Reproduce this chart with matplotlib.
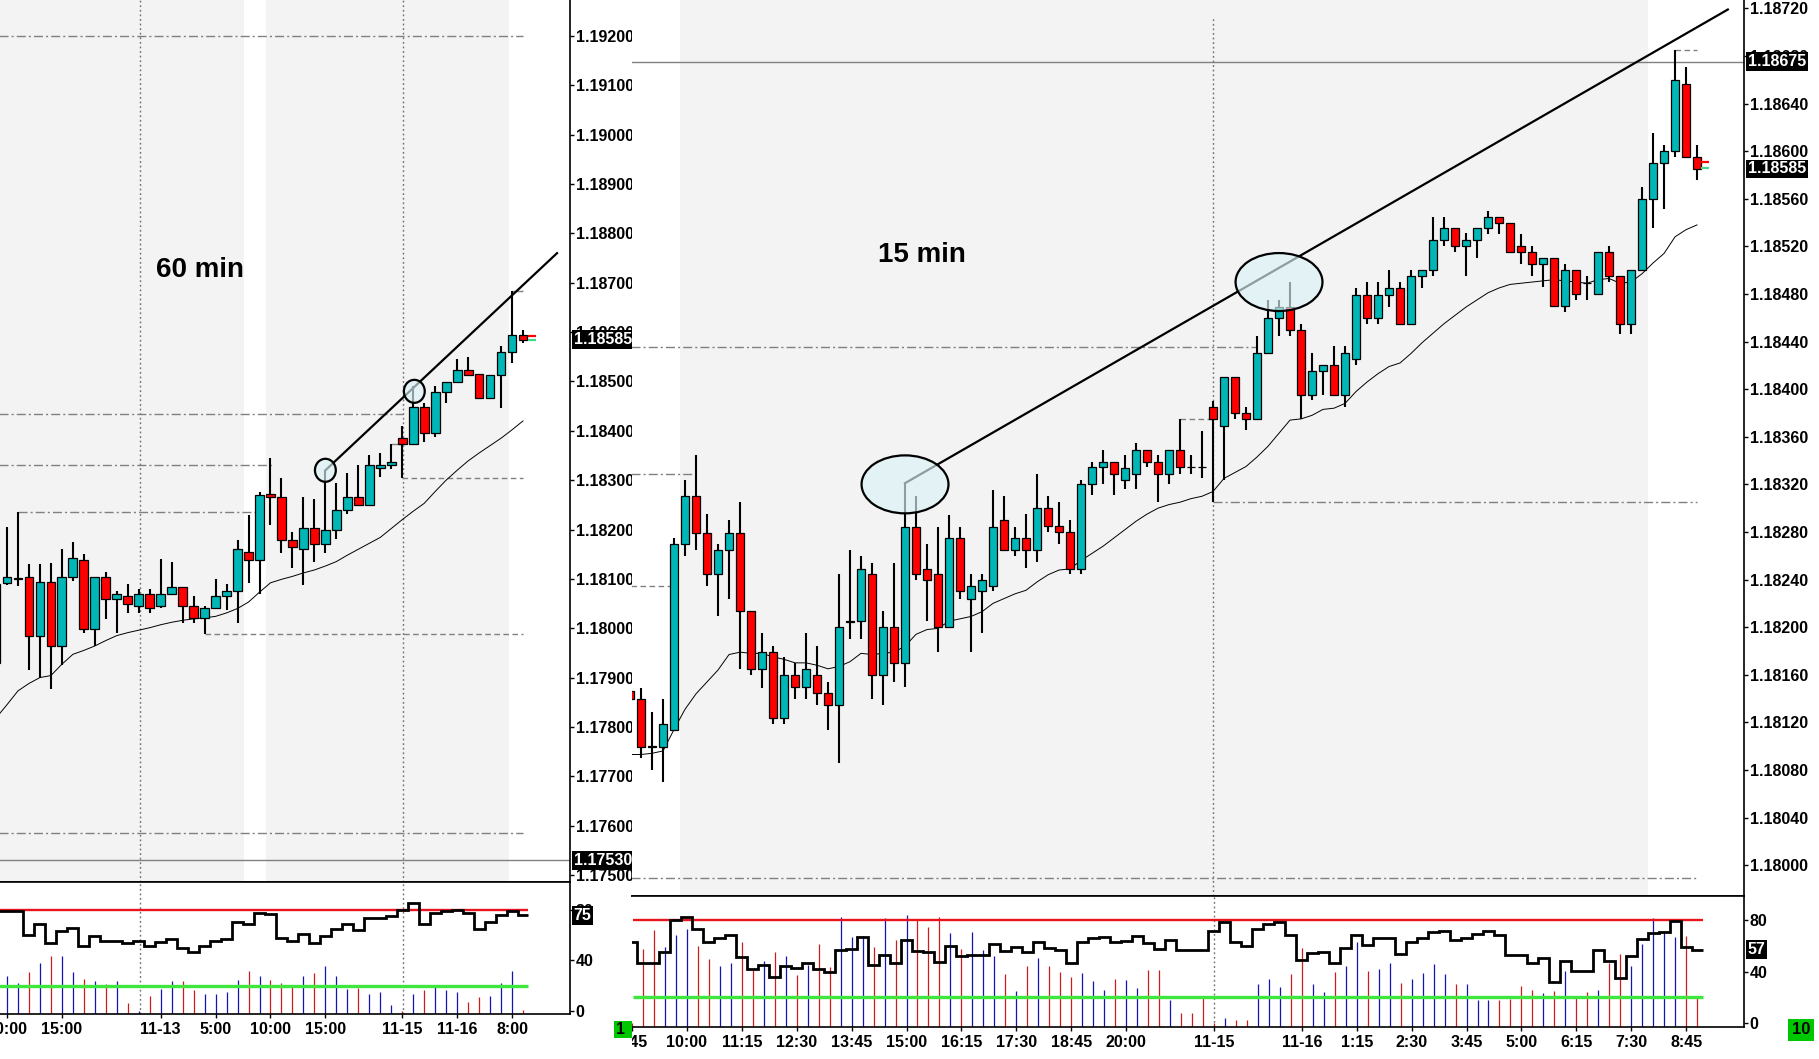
import numpy as np
import matplotlib
matplotlib.use("Agg")
import matplotlib.pyplot as plt
import matplotlib.transforms as mtransforms
from matplotlib.patches import Ellipse, Rectangle

plt.rcParams['font.family'] = ['Liberation Sans', 'DejaVu Sans']
plt.rcParams['lines.scale_dashes'] = False

# ---------------- 60 min chart data ----------------
left_open = [1.17930, 1.18092, 1.18099, 1.18104, 1.17985, 1.18094, 1.17964, 1.18104, 1.18139, 1.17998,
             1.18104, 1.18059, 1.18065, 1.18045, 1.18069, 1.18045, 1.18070, 1.18084, 1.18045, 1.18020,
             1.18040, 1.18065, 1.18075, 1.18155, 1.18139, 1.18272, 1.18265, 1.18178, 1.18160, 1.18204,
             1.18171, 1.18198, 1.18239, 1.18265, 1.18249, 1.18324, 1.18331, 1.18385, 1.18374, 1.18449,
             1.18395, 1.18479, 1.18499, 1.18523, 1.18516, 1.18466, 1.18513, 1.18560, 1.18594]
left_high = [1.18096, 1.18206, 1.18235, 1.18130, 1.18130, 1.18133, 1.18160, 1.18175, 1.18151, 1.18104,
             1.18113, 1.18075, 1.18090, 1.18080, 1.18080, 1.18141, 1.18134, 1.18084, 1.18066, 1.18045,
             1.18100, 1.18090, 1.18178, 1.18229, 1.18275, 1.18345, 1.18304, 1.18194, 1.18265, 1.18261,
             1.18320, 1.18294, 1.18314, 1.18330, 1.18351, 1.18355, 1.18373, 1.18410, 1.18491, 1.18456,
             1.18490, 1.18499, 1.18545, 1.18550, 1.18516, 1.18513, 1.18571, 1.18683, 1.18604]
left_low = [1.17892, 1.18088, 1.18085, 1.17916, 1.17900, 1.17876, 1.17925, 1.18096, 1.17990, 1.17963,
            1.18018, 1.17990, 1.18030, 1.18030, 1.18031, 1.18041, 1.18069, 1.18010, 1.18011, 1.17989,
            1.18040, 1.18037, 1.18010, 1.18092, 1.18069, 1.18210, 1.18153, 1.18121, 1.18087, 1.18135,
            1.18153, 1.18181, 1.18231, 1.18249, 1.18249, 1.18306, 1.18323, 1.18304, 1.18374, 1.18377,
            1.18387, 1.18457, 1.18496, 1.18511, 1.18466, 1.18464, 1.18447, 1.18537, 1.18577]
left_close = [1.18090, 1.18104, 1.18101, 1.17985, 1.18094, 1.17964, 1.18104, 1.18143, 1.17998, 1.18104,
              1.18059, 1.18069, 1.18049, 1.18070, 1.18040, 1.18070, 1.18084, 1.18045, 1.18020, 1.18040,
              1.18065, 1.18075, 1.18160, 1.18139, 1.18269, 1.18265, 1.18178, 1.18165, 1.18204, 1.18171,
              1.18198, 1.18239, 1.18265, 1.18249, 1.18330, 1.18331, 1.18336, 1.18374, 1.18449, 1.18395,
              1.18479, 1.18499, 1.18523, 1.18513, 1.18466, 1.18513, 1.18560, 1.18594, 1.18585]
left_ma = [1.17818, 1.17845, 1.17873, 1.17888, 1.17900, 1.17904, 1.17927, 1.17947, 1.17955, 1.17964,
           1.17975, 1.17985, 1.17991, 1.17996, 1.18001, 1.18007, 1.18012, 1.18016, 1.18019, 1.18021,
           1.18024, 1.18031, 1.18040, 1.18053, 1.18073, 1.18092, 1.18099, 1.18105, 1.18112, 1.18118,
           1.18126, 1.18135, 1.18148, 1.18160, 1.18172, 1.18184, 1.18202, 1.18220, 1.18237, 1.18253,
           1.18277, 1.18300, 1.18320, 1.18339, 1.18355, 1.18370, 1.18385, 1.18402, 1.18420]
left_osc = [78.7, 78.7, 78.7, 60.0, 68.5, 53.5, 63.0, 65.5, 51.0, 59.0,
            55.0, 55.0, 53.5, 55.5, 51.0, 54.7, 57.0, 50.0, 46.5, 51.0,
            55.0, 56.5, 70.0, 68.5, 77.5, 76.5, 58.0, 55.0, 61.0, 54.0,
            59.5, 64.5, 68.5, 63.7, 73.5, 73.5, 75.0, 79.6, 85.0, 69.0,
            77.5, 78.7, 80.0, 77.5, 64.5, 70.0, 75.7, 78.7, 75.7]
left_vol = [0, 27.6, 22.5, 31.0, 38.0, 43.5, 43.5, 31.0, 25.5, 24.0,
            21.6, 24.0, 6.6, 0, 12.0, 17.4, 24.0, 24.0, 16.5, 13.5,
            14.0, 15.0, 25.0, 32.0, 28.0, 25.0, 22.0, 20.0, 28.0, 30.0,
            36.0, 28.0, 17.4, 18.6, 14.0, 15.6, 5.4, 0, 14.0, 16.5,
            21.0, 16.5, 15.6, 7.5, 11.0, 12.0, 22.5, 32.0, 1.5]
left_yticks = [1.17500, 1.17600, 1.17700, 1.17800, 1.17900, 1.18000, 1.18100, 1.18200, 1.18300,
               1.18400, 1.18500, 1.18600, 1.18700, 1.18800, 1.18900, 1.19000, 1.19100, 1.19200]
left_xtick_pos = [1, 6, 15, 20, 25, 30, 37, 42, 47]
left_xtick_lab = ["10:00", "15:00", "11-13", "5:00", "10:00", "15:00", "11-15", "11-16", "8:00"]
left_trend = ([30, 51.1], [1.18320, 1.18760])
left_circles = [(30.0, 1.18320), (38.1, 1.18480)]

# ---------------- 15 min chart data ----------------
right_open = [1.18146, 1.18140, 1.18100, 1.18099, 1.18114, 1.18270, 1.18310, 1.18279, 1.18245, 1.18265,
              1.18279, 1.18214, 1.18165, 1.18179, 1.18124, 1.18160, 1.18150, 1.18160, 1.18145, 1.18135,
              1.18204, 1.18205, 1.18245, 1.18160, 1.18200, 1.18170, 1.18284, 1.18249, 1.18245, 1.18200,
              1.18275, 1.18224, 1.18230, 1.18235, 1.18290, 1.18265, 1.18275, 1.18265, 1.18300, 1.18285,
              1.18280, 1.18249, 1.18320, 1.18335, 1.18339, 1.18324, 1.18329, 1.18349, 1.18339, 1.18329,
              1.18349, 1.18335, 1.18335, 1.18385, 1.18369, 1.18410, 1.18380, 1.18375, 1.18430, 1.18460,
              1.18469, 1.18450, 1.18395, 1.18415, 1.18420, 1.18395, 1.18425, 1.18479, 1.18460, 1.18479,
              1.18485, 1.18455, 1.18495, 1.18500, 1.18525, 1.18535, 1.18520, 1.18525, 1.18535, 1.18545,
              1.18540, 1.18520, 1.18515, 1.18505, 1.18510, 1.18470, 1.18500, 1.18489, 1.18480, 1.18515,
              1.18495, 1.18455, 1.18500, 1.18560, 1.18590, 1.18600, 1.18656, 1.18595]
right_high = [1.18150, 1.18149, 1.18129, 1.18140, 1.18275, 1.18324, 1.18345, 1.18295, 1.18270, 1.18290,
              1.18305, 1.18214, 1.18195, 1.18184, 1.18175, 1.18170, 1.18195, 1.18184, 1.18154, 1.18245,
              1.18265, 1.18260, 1.18254, 1.18214, 1.18254, 1.18321, 1.18310, 1.18270, 1.18284, 1.18294,
              1.18284, 1.18245, 1.18245, 1.18315, 1.18310, 1.18284, 1.18295, 1.18329, 1.18310, 1.18305,
              1.18290, 1.18324, 1.18339, 1.18349, 1.18339, 1.18345, 1.18355, 1.18349, 1.18345, 1.18349,
              1.18375, 1.18345, 1.18365, 1.18390, 1.18410, 1.18410, 1.18385, 1.18445, 1.18475, 1.18475,
              1.18490, 1.18455, 1.18430, 1.18420, 1.18436, 1.18436, 1.18485, 1.18490, 1.18490, 1.18500,
              1.18490, 1.18500, 1.18500, 1.18545, 1.18545, 1.18535, 1.18531, 1.18535, 1.18550, 1.18545,
              1.18540, 1.18530, 1.18520, 1.18510, 1.18510, 1.18505, 1.18500, 1.18495, 1.18515, 1.18520,
              1.18495, 1.18500, 1.18570, 1.18615, 1.18605, 1.18685, 1.18671, 1.18605]
right_low = [1.18130, 1.18090, 1.18080, 1.18070, 1.18114, 1.18260, 1.18265, 1.18235, 1.18209, 1.18224,
             1.18165, 1.18160, 1.18149, 1.18119, 1.18119, 1.18140, 1.18140, 1.18135, 1.18114, 1.18086,
             1.18190, 1.18190, 1.18140, 1.18135, 1.18154, 1.18150, 1.18240, 1.18205, 1.18179, 1.18200,
             1.18224, 1.18179, 1.18195, 1.18230, 1.18265, 1.18260, 1.18250, 1.18255, 1.18280, 1.18270,
             1.18245, 1.18245, 1.18311, 1.18320, 1.18311, 1.18316, 1.18316, 1.18335, 1.18305, 1.18320,
             1.18329, 1.18329, 1.18325, 1.18305, 1.18324, 1.18375, 1.18366, 1.18375, 1.18430, 1.18445,
             1.18445, 1.18375, 1.18391, 1.18395, 1.18395, 1.18385, 1.18420, 1.18455, 1.18455, 1.18469,
             1.18455, 1.18455, 1.18485, 1.18495, 1.18520, 1.18515, 1.18495, 1.18510, 1.18530, 1.18530,
             1.18515, 1.18505, 1.18495, 1.18486, 1.18470, 1.18465, 1.18475, 1.18475, 1.18480, 1.18490,
             1.18446, 1.18446, 1.18500, 1.18535, 1.18551, 1.18595, 1.18595, 1.18576]
right_close = [1.18140, 1.18099, 1.18099, 1.18119, 1.18270, 1.18310, 1.18279, 1.18245, 1.18265, 1.18279,
               1.18214, 1.18165, 1.18179, 1.18124, 1.18160, 1.18150, 1.18165, 1.18145, 1.18135, 1.18200,
               1.18205, 1.18249, 1.18160, 1.18200, 1.18170, 1.18284, 1.18245, 1.18240, 1.18200, 1.18275,
               1.18230, 1.18235, 1.18240, 1.18284, 1.18265, 1.18275, 1.18265, 1.18300, 1.18285, 1.18280,
               1.18249, 1.18320, 1.18335, 1.18339, 1.18329, 1.18334, 1.18349, 1.18339, 1.18329, 1.18349,
               1.18335, 1.18335, 1.18335, 1.18375, 1.18410, 1.18380, 1.18375, 1.18430, 1.18460, 1.18469,
               1.18450, 1.18395, 1.18415, 1.18420, 1.18395, 1.18430, 1.18479, 1.18460, 1.18479, 1.18485,
               1.18455, 1.18495, 1.18500, 1.18525, 1.18535, 1.18520, 1.18525, 1.18535, 1.18545, 1.18540,
               1.18515, 1.18515, 1.18505, 1.18510, 1.18470, 1.18500, 1.18480, 1.18489, 1.18515, 1.18495,
               1.18455, 1.18500, 1.18560, 1.18590, 1.18600, 1.18660, 1.18595, 1.18585]
right_ma = [1.18093, 1.18093, 1.18094, 1.18096, 1.18114, 1.18131, 1.18144, 1.18154, 1.18164, 1.18177,
            1.18179, 1.18178, 1.18178, 1.18175, 1.18173, 1.18170, 1.18170, 1.18168, 1.18165, 1.18167,
            1.18171, 1.18178, 1.18177, 1.18178, 1.18179, 1.18184, 1.18194, 1.18198, 1.18199, 1.18205,
            1.18207, 1.18209, 1.18213, 1.18220, 1.18224, 1.18228, 1.18231, 1.18238, 1.18244, 1.18248,
            1.18249, 1.18256, 1.18262, 1.18268, 1.18275, 1.18282, 1.18289, 1.18295, 1.18300, 1.18303,
            1.18305, 1.18308, 1.18310, 1.18314, 1.18325, 1.18330, 1.18335, 1.18343, 1.18352, 1.18363,
            1.18374, 1.18375, 1.18378, 1.18383, 1.18384, 1.18388, 1.18398, 1.18406, 1.18413, 1.18419,
            1.18422, 1.18430, 1.18439, 1.18447, 1.18455, 1.18462, 1.18469, 1.18475, 1.18481, 1.18485,
            1.18488, 1.18489, 1.18490, 1.18491, 1.18492, 1.18491, 1.18490, 1.18489, 1.18492, 1.18493,
            1.18489, 1.18490, 1.18497, 1.18506, 1.18514, 1.18528, 1.18534, 1.18538]
right_osc = [63.3, 47.1, 47.1, 55.0, 80.0, 83.0, 73.4, 63.3, 66.0, 68.6,
             51.4, 41.8, 45.1, 35.8, 44.4, 42.6, 46.4, 42.3, 39.6, 57.0,
             57.7, 67.3, 45.1, 52.7, 46.4, 64.8, 56.2, 55.2, 47.6, 60.2,
             52.2, 52.7, 53.2, 61.5, 56.0, 59.0, 55.2, 63.3, 58.2, 56.5,
             46.4, 63.3, 66.5, 67.0, 63.3, 64.0, 67.8, 62.3, 57.7, 64.8,
             56.5, 56.5, 56.5, 71.6, 78.4, 62.8, 60.2, 73.4, 77.4, 78.4,
             68.6, 48.9, 54.7, 55.2, 47.1, 58.2, 68.6, 60.8, 66.0, 66.5,
             53.9, 63.5, 66.0, 70.8, 72.1, 64.8, 66.5, 69.1, 71.6, 68.6,
             53.2, 53.2, 47.1, 50.7, 32.0, 48.1, 40.6, 40.6, 56.5, 48.1,
             35.0, 51.9, 65.8, 69.8, 71.1, 79.2, 59.5, 56.5]
right_vol = [0, 57.7, 72.9, 59.5, 68.3, 73.6, 60.2, 50.2, 44.4, 46.4,
             62.8, 41.3, 48.4, 55.5, 51.9, 37.6, 45.1, 61.5, 43.9, 82.4,
             67.3, 68.1, 59.5, 81.7, 64.8, 83.9, 81.4, 75.1, 82.4, 70.3,
             57.7, 71.3, 57.0, 51.9, 38.3, 24.5, 44.4, 50.9, 44.4, 39.8,
             35.8, 38.8, 32.5, 26.0, 34.3, 33.5, 27.5, 41.1, 41.1, 17.9,
             7.3, 7.3, 19.2, 0, 4.0, 1.8, 1.8, 30.5, 34.3, 28.2,
             38.0, 58.5, 30.5, 23.7, 39.6, 44.4, 63.5, 40.8, 41.8, 47.1,
             31.3, 34.3, 38.8, 45.6, 38.0, 30.5, 30.5, 17.9, 17.9, 17.9,
             18.4, 28.7, 26.0, 22.9, 25.2, 40.6, 21.2, 23.7, 26.0, 46.4,
             53.9, 44.4, 61.5, 81.7, 71.1, 67.0, 67.8, 20.7]
right_yticks = [1.18000, 1.18040, 1.18080, 1.18120, 1.18160, 1.18200, 1.18240, 1.18280, 1.18320, 1.18360,
                1.18400, 1.18440, 1.18480, 1.18520, 1.18560, 1.18600, 1.18640, 1.18680, 1.18720]
right_xtick_pos = [0, 5, 10, 15, 20, 25, 30, 35, 40, 45, 53, 61, 66, 71, 76, 81, 86, 91, 96]
right_xtick_lab = ["8:45", "10:00", "11:15", "12:30", "13:45", "15:00", "16:15", "17:30", "18:45", "20:00",
                   "11-15", "11-16", "1:15", "2:30", "3:45", "5:00", "6:15", "7:30", "8:45"]
right_trend = ([25, 99.8], [1.18321, 1.18719])
right_ellipses = [(25.0, 1.18320), (59.0, 1.18490)]

# ---------------- layout ----------------
W, H = 1819, 1059
fig = plt.figure(figsize=(W / 100, H / 100), dpi=100)
fig.patch.set_facecolor('white')


def rect(x0, y0, x1, y1):
    return [x0 / W, 1 - y1 / H, (x1 - x0) / W, (y1 - y0) / H]


TEAL = '#00b6b6'
RED = '#ff0000'
GREY = '#808080'
SHADE = '#f3f3f3'
BLUEBAR = '#1414b4'
REDBAR = '#cc1c1c'
DASHDOT = (0, (6.5, 2.2, 1.5, 2.2))
DASHED = (0, (4.0, 2.5))
DOTTED = (0, (1.3, 2.0))
FS = 11.5

axL = fig.add_axes(rect(0, 0, 570, 882))
axLi = fig.add_axes(rect(0, 882, 570, 1014))
axR = fig.add_axes(rect(632, 0, 1744, 896))
axRi = fig.add_axes(rect(632, 896, 1744, 1027))

for ax in (axL, axLi, axR, axRi):
    ax.set_facecolor('white')
    ax.spines['left'].set_visible(False)
    for s in ax.spines.values():
        s.set_linewidth(1.2)
        s.set_color('black')
for ax in (axL, axR):
    ax.spines['top'].set_visible(False)
    ax.set_xticks([])


def draw_candles(ax, o, h, l, c):
    o = np.asarray(o)
    c = np.asarray(c)
    x = np.arange(len(o))
    up = c > o
    cols = [TEAL if u else RED for u in up]
    ax.vlines(x, l, h, color='black', lw=1.5, zorder=3)
    ax.bar(x, np.abs(c - o), bottom=np.minimum(o, c), width=0.8, color=cols,
           edgecolor='black', linewidth=0.9, zorder=4)
    return up


def value_box(ax, y, text, dx=3.5):
    tr = mtransforms.blended_transform_factory(ax.transAxes, ax.transData)
    tr = tr + mtransforms.ScaledTranslation(dx / 100, 0, fig.dpi_scale_trans)
    ax.text(1.0, y, text, transform=tr, ha='left', va='center', color='white',
            fontsize=FS, fontweight='bold', zorder=20, clip_on=False,
            bbox=dict(boxstyle='square,pad=0.12', facecolor='black', edgecolor='none'))


def style_yaxis(ax, ticks, labels):
    ax.yaxis.tick_right()
    ax.set_yticks(ticks)
    ax.set_yticklabels(labels, fontsize=FS, fontweight='bold')
    ax.tick_params(axis='y', direction='out', length=3, width=1, pad=1)


# ================= LEFT (60 min) =================
axL.set_xlim(0.364, 52.28)
axL.set_ylim(1.174857, 1.19273)
axL.axvspan(-1, 22.6, color=SHADE, zorder=0, lw=0)
axL.axvspan(24.6, 46.7, color=SHADE, zorder=0, lw=0)
for xv in (13.1, 37.1):
    axL.axvline(xv, color='#707070', lw=1, ls=DOTTED, zorder=1)
    axLi.axvline(xv, color='#707070', lw=1, ls=DOTTED, zorder=1)

axL.hlines(1.19200, 0.3, 48.0, colors=GREY, lw=1, linestyles=DASHDOT, zorder=1)
axL.hlines(1.18435, 0.3, 37.1, colors=GREY, lw=1, linestyles=DASHDOT, zorder=1)
axL.hlines(1.18331, 0.3, 25.1, colors=GREY, lw=1, linestyles=DASHDOT, zorder=1)
axL.hlines(1.18235, 2.0, 24.0, colors=GREY, lw=1, linestyles=DASHDOT, zorder=1)
axL.hlines(1.18304, 37.0, 48.0, colors=GREY, lw=1, linestyles=DASHED, zorder=1)
axL.hlines(1.17989, 19.0, 48.0, colors=GREY, lw=1, linestyles=DASHED, zorder=1)
axL.hlines(1.17585, 0.3, 48.0, colors=GREY, lw=1, linestyles=DASHDOT, zorder=1)
axL.hlines(1.18374, 36.0, 37.0, colors=GREY, lw=1, zorder=1)
axL.hlines(1.18683, 47.0, 48.0, colors=GREY, lw=1, zorder=1)
axL.axhline(1.17530, color=GREY, lw=1, zorder=1)

axL.plot(np.arange(len(left_ma)), left_ma, color='black', lw=0.7, zorder=2)
up_left = draw_candles(axL, left_open, left_high, left_low, left_close)
axL.hlines(1.18592, 48.5, 49.2, colors=RED, lw=1.6, zorder=5)
axL.hlines(1.18585, 48.5, 49.2, colors='#40d890', lw=1.6, zorder=5)

axL.plot(left_trend[0], left_trend[1], color='black', lw=1.6, zorder=5)
for cx, cy in left_circles:
    axL.add_patch(Ellipse((cx, cy), 1.9, 0.000466, facecolor=(0.86, 0.95, 0.97, 0.65),
                          edgecolor='black', lw=1.6, zorder=6))

style_yaxis(axL, left_yticks, ["%.5f" % v for v in left_yticks])
value_box(axL, 1.18585, "1.18585")
value_box(axL, 1.17530, "1.17530")

# left indicator
n_l = len(left_osc)
axLi.set_xlim(0.364, 52.28)
axLi.set_ylim(-2, 101.6)
xl = np.arange(n_l)
axLi.vlines(xl, -2, left_vol, colors=[BLUEBAR if u else REDBAR for u in up_left], lw=0.9, zorder=2)
axLi.hlines(80, 0.3, 48.5, colors='#e8141e', lw=1.7, zorder=3)
axLi.hlines(20, 0.3, 48.5, colors='#3ee63e', lw=2.4, zorder=3)
axLi.stairs(left_osc, np.arange(n_l + 1) - 0.5, baseline=None, color='black', lw=2.0, zorder=4)
style_yaxis(axLi, [0, 40, 80], ["0", "40", "80"])
value_box(axLi, 75, "75")
axLi.set_xticks(left_xtick_pos)
axLi.set_xticklabels(left_xtick_lab, fontsize=FS, fontweight='bold')
axLi.tick_params(axis='x', direction='out', length=3, width=1, pad=2.5)

fig.text(200 / W, 1 - 270 / H, "60 min", ha='center', va='center', fontsize=20, fontweight='bold')

# ================= RIGHT (15 min) =================
axR.set_xlim(0.18, 101.27)
axR.set_ylim(1.179741, 1.18727)
axR.axvspan(4.5, 92.5, color=SHADE, zorder=0, lw=0)
axR.axvline(53, 0, 0.982, color='#707070', lw=1, ls=DOTTED, zorder=1)
axRi.axvline(53, color='#707070', lw=1, ls=DOTTED, zorder=1)

axR.axhline(1.18675, color=GREY, lw=1, zorder=1)
axR.hlines(1.18435, 0.1, 57.0, colors=GREY, lw=1, linestyles=DASHDOT, zorder=1)
axR.hlines(1.18329, 0.1, 6.0, colors=GREY, lw=1, linestyles=DASHDOT, zorder=1)
axR.hlines(1.18235, 0.1, 4.0, colors=GREY, lw=1, linestyles=DASHED, zorder=1)
axR.hlines(1.18375, 50.0, 53.0, colors=GREY, lw=1, linestyles=DASHED, zorder=1)
axR.hlines(1.18305, 53.0, 97.0, colors=GREY, lw=1, linestyles=DASHDOT, zorder=1)
axR.hlines(1.17989, 0.1, 97.0, colors=GREY, lw=1, linestyles=DASHDOT, zorder=1)
axR.hlines(1.18685, 95.0, 97.0, colors=GREY, lw=1, linestyles=DASHED, zorder=1)

axR.plot(np.arange(len(right_ma)), right_ma, color='black', lw=0.7, zorder=2)
up_right = draw_candles(axR, right_open, right_high, right_low, right_close)
axR.hlines(1.18591, 97.4, 98.1, colors=RED, lw=1.6, zorder=5)
axR.hlines(1.18586, 97.4, 98.1, colors='#40d890', lw=1.6, zorder=5)

axR.plot(right_trend[0], right_trend[1], color='black', lw=1.6, zorder=5)
for cx, cy in right_ellipses:
    axR.add_patch(Ellipse((cx, cy), 7.9, 0.000487, facecolor=(0.86, 0.95, 0.97, 0.65),
                          edgecolor='black', lw=1.6, zorder=6))

style_yaxis(axR, right_yticks, ["%.5f" % v for v in right_yticks])
value_box(axR, 1.18675, "1.18675")
value_box(axR, 1.18585, "1.18585")

# right indicator
n_r = len(right_osc)
axRi.set_xlim(0.18, 101.27)
axRi.set_ylim(-3.3, 99.1)
xr = np.arange(n_r)
axRi.vlines(xr, -3.3, right_vol, colors=[BLUEBAR if u else REDBAR for u in up_right], lw=0.9, zorder=2)
axRi.hlines(80, 0.1, 97.5, colors='#e8141e', lw=1.7, zorder=3)
axRi.hlines(20, 0.1, 97.5, colors='#3ee63e', lw=2.4, zorder=3)
axRi.stairs(right_osc, np.arange(n_r + 1) - 0.5, baseline=None, color='black', lw=2.0, zorder=4)
style_yaxis(axRi, [0, 40, 80], ["0", "40", "80"])
value_box(axRi, 57, "57")
axRi.set_xticks(right_xtick_pos)
axRi.set_xticklabels([""] + right_xtick_lab[1:], fontsize=FS, fontweight='bold')
axRi.tick_params(axis='x', direction='out', length=3, width=1, pad=2.5)

# first (clipped) label of the 15 min axis, placed like the other tick labels
lab_tr = mtransforms.blended_transform_factory(axRi.transData, axRi.transAxes) + \
    mtransforms.ScaledTranslation(0, -5.5 / 72, fig.dpi_scale_trans)
first_lab = axRi.text(right_xtick_pos[0], 0, right_xtick_lab[0], transform=lab_tr,
                      ha='center', va='top', fontsize=FS, fontweight='bold', clip_on=True)
first_lab.set_clip_box(mtransforms.Bbox.from_extents(632, 0, W, H))

fig.text(922 / W, 1 - 255 / H, "15 min", ha='center', va='center', fontsize=20, fontweight='bold')

# green counter boxes
fig.patches.append(Rectangle((614 / W, 1 - 1038 / H), 18 / W, 17 / H, transform=fig.transFigure,
                             facecolor='#00c800', edgecolor='none'))
fig.text(616 / W, 1 - 1030 / H, "1", ha='left', va='center', fontsize=FS, fontweight='bold')
fig.text(1801 / W, 1 - 1030 / H, "10", ha='center', va='center', fontsize=FS + 0.5, fontweight='bold',
         bbox=dict(boxstyle='square,pad=0.2', facecolor='#00c800', edgecolor='none'))

fig.savefig("out.png", dpi=100, facecolor='white')
